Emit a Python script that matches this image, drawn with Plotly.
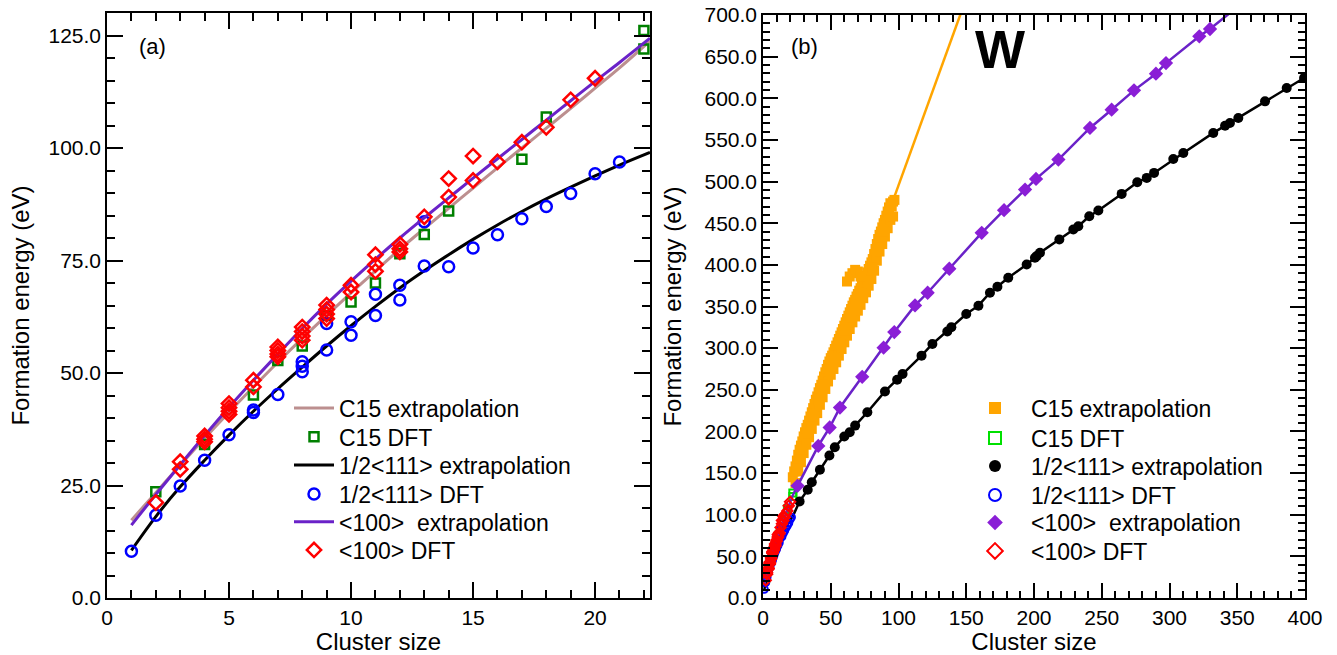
import plotly.graph_objects as go

# ---------------- Panel (a) data ----------------
fit_n = [1, 2, 3, 4, 5, 6, 7, 8, 9, 10, 11, 12, 13, 14, 15, 16, 17, 18, 19, 20, 21, 22.25]
c15_fit = [17.3, 23.4, 29.5, 35.5, 41.3, 46.9, 52.4, 57.7, 62.8, 67.8, 72.7, 77.5, 82.1, 86.6,
           91.1, 95.6, 100.0, 104.4, 108.8, 113.3, 117.8, 123.8]
h111_fit = [10.6, 18.1, 24.7, 30.6, 36.2, 41.5, 46.5, 51.3, 56.0, 60.5, 64.8, 68.9, 72.7, 76.3,
            79.7, 82.9, 85.9, 88.7, 91.3, 93.8, 96.2, 99.0]
d100_fit = [16.2, 23.0, 29.6, 36.1, 42.4, 48.4, 54.2, 59.9, 65.3, 70.4, 75.3, 80.0, 84.5, 88.9,
            93.3, 97.6, 101.9, 106.2, 110.5, 114.8, 119.0, 124.4]

c15_dft_n = [2, 4, 6, 7, 8, 9, 10, 11, 12, 13, 14, 17, 18, 22, 22]
c15_dft_e = [23.6, 34.1, 45.1, 52.8, 56.0, 62.8, 65.8, 70.0, 76.5, 80.8, 86.0, 97.5, 106.9, 126.1, 122.0]

h111_dft_n = [1, 2, 3, 4, 5, 6, 6, 7, 8, 8, 8, 9, 9, 10, 10, 11, 11, 12, 12, 13, 13,
              14, 15, 16, 17, 18, 19, 20, 21]
h111_dft_e = [10.4, 18.4, 24.9, 30.6, 36.3, 41.8, 41.2, 45.2, 52.5, 51.5, 50.3, 61.0, 55.1,
              61.4, 58.4, 67.5, 62.8, 69.5, 66.2, 83.6, 73.8, 73.6, 77.8, 80.7, 84.3, 87.0,
              89.9, 94.3, 96.9]

d100_dft_n = [2, 3, 3, 4, 4, 4, 5, 5, 5, 5, 6, 6, 7, 7, 7, 7, 8, 8, 8, 8, 9, 9, 9, 9,
              10, 10, 11, 11, 11, 12, 12, 12, 13, 14, 14, 15, 15, 16, 17, 18, 19, 20]
d100_dft_e = [21.2, 30.3, 28.6, 36.0, 35.3, 34.7, 43.2, 42.3, 41.5, 40.8, 48.4, 46.9,
              55.8, 55.0, 54.2, 53.6, 60.2, 59.2, 58.2, 57.3, 65.1, 64.1, 63.1, 62.1,
              69.5, 68.0, 76.3, 74.1, 72.6, 78.6, 77.6, 76.9, 84.7, 93.2, 89.1, 98.2,
              92.8, 96.9, 101.3, 104.6, 110.7, 115.5]

# ---------------- Panel (b) data ----------------
# C15 extrapolation cloud (main branch, lower scatter, middle scatter, bump near n~60-72)
c15_ext_n = [22, 23, 24, 25, 26, 27, 28, 29, 30, 31, 32, 33, 34, 35, 36, 37, 38, 39, 40, 41,
             42, 43, 44, 45, 46, 47, 48, 49, 50, 51, 52, 53, 54, 55, 56, 57, 58, 59, 60, 61,
             62, 63, 64, 65, 66, 67, 68, 69, 70, 71, 72, 73, 74, 75, 76, 77, 78, 79, 80, 81,
             82, 83, 84, 85, 86, 87, 88, 89, 90, 91, 92, 93, 94, 95, 96, 97,
             24, 26, 28, 30, 32, 34, 36, 38, 40, 42, 44, 46, 48, 50, 52, 54, 56, 58, 60, 62,
             64, 66, 68, 70, 72, 74, 76, 78, 80, 82, 84, 86, 88, 90, 92, 94, 96,
             25, 29, 33, 37, 41, 45, 49, 53, 57, 61, 65, 69, 73, 77, 81, 85, 89, 93,
             62, 64, 66, 68, 70, 72]
c15_ext_e = [145, 152, 158, 165, 172, 178, 183, 188, 194, 199, 204, 208, 213, 218, 223, 228,
             233, 238, 242, 247, 252, 256, 261, 266, 271, 275, 280, 284, 288, 291, 295, 299,
             303, 307, 311, 315, 319, 323, 327, 331, 335, 339, 343, 347, 351, 355, 358, 362,
             365, 369, 372, 376, 380, 383, 387, 391, 395, 399, 403, 407, 413, 419, 425, 431,
             436, 440, 445, 450, 454, 459, 464, 469, 474, 470, 476, 478,
             138, 152, 163, 174, 184, 193, 203, 213, 222, 232, 241, 251, 260, 268, 275, 283,
             291, 299, 307, 315, 323, 331, 338, 345, 352, 360, 367, 375, 383, 393, 405, 416,
             425, 434, 444, 454, 458,
             155, 178, 198, 218, 237, 256, 274, 289, 305, 321, 337, 352, 366, 381, 397, 421,
             440, 459,
             380, 386, 390, 394, 392, 386]
c15_line_n = [97, 150]
c15_line_e = [482, 720]

h111_ext_n = [27, 33, 36, 42, 49, 53, 60, 64, 68, 77, 90, 99, 103, 117, 125, 136, 139, 150,
              159, 167.5, 173, 181, 194.6, 200.7, 202, 204.4, 218.7, 229, 232.7, 240.8, 247.5,
              264.7, 276.2, 283.2, 288.6, 302.8, 310.2, 332.3, 341, 344.6, 350.8, 370.5,
              386.5, 399.3]
h111_ext_e = [116, 130, 139, 154, 171, 181, 194, 199, 207, 223, 248, 262, 269, 291, 305, 320,
              325, 341, 351, 366.5, 373.7, 384.5, 400.5, 408.5, 410.5, 414.5, 430.5, 442.4,
              446.4, 458.4, 465.2, 485.2, 499.2, 504.4, 510.4, 527.2, 534.4, 558.4, 567.1,
              570.4, 576.4, 596.3, 612.3, 624.3]

d100_ext_n = [25.5, 40.8, 49.2, 56.8, 73.2, 89, 96.9, 112.2, 121.5, 137.5, 161.4, 177.9, 193.4,
              201.5, 218, 241.3, 257.3, 273.8, 290, 297.4, 322, 329.9]
d100_ext_e = [134.7, 182.6, 204.7, 228.7, 265.6, 300.6, 319.3, 351.3, 366.5, 395.3, 438.5,
              465.6, 490.4, 503.2, 526.4, 564.4, 586.3, 609.5, 629.5, 642.3, 674.4, 683.2]
d100_tail_n = [345]
d100_tail_e = [703]

legend_labels = ["C15 extrapolation", "C15 DFT", "1/2&lt;111&gt; extrapolation",
                 "1/2&lt;111&gt; DFT", "&lt;100&gt;&#160; extrapolation", "&lt;100&gt; DFT"]

FONT = "Liberation Sans, Arial, Helvetica, sans-serif"
BROWN = "#BC8F8F"
PURPLE_A = "#6A22C8"
PURPLE_B = "#8A1ED6"

fig = go.Figure()

# ----- panel (a) -----
fig.add_trace(go.Scatter(x=fit_n, y=c15_fit, mode="lines", line=dict(color=BROWN, width=3, shape="spline"),
                         name=legend_labels[0], legend="legend", xaxis="x", yaxis="y"))
fig.add_trace(go.Scatter(x=c15_dft_n, y=c15_dft_e, mode="markers",
                         marker=dict(symbol="square-open", size=9, color="#008000", line=dict(width=2.5, color="#008000")),
                         name=legend_labels[1], legend="legend2", xaxis="x", yaxis="y"))
fig.add_trace(go.Scatter(x=fit_n, y=h111_fit, mode="lines", line=dict(color="black", width=3, shape="spline"),
                         name=legend_labels[2], legend="legend3", xaxis="x", yaxis="y"))
fig.add_trace(go.Scatter(x=h111_dft_n, y=h111_dft_e, mode="markers",
                         marker=dict(symbol="circle-open", size=11, color="#0000FF", line=dict(width=2.5, color="#0000FF")),
                         name=legend_labels[3], legend="legend4", xaxis="x", yaxis="y"))
fig.add_trace(go.Scatter(x=fit_n, y=d100_fit, mode="lines", line=dict(color=PURPLE_A, width=3, shape="spline"),
                         name=legend_labels[4], legend="legend5", xaxis="x", yaxis="y"))
fig.add_trace(go.Scatter(x=d100_dft_n, y=d100_dft_e, mode="markers",
                         marker=dict(symbol="diamond-open", size=11, color="#FF0000", line=dict(width=2.5, color="#FF0000")),
                         name=legend_labels[5], legend="legend6", xaxis="x", yaxis="y"))

# ----- panel (b) -----
fig.add_trace(go.Scatter(x=c15_line_n, y=c15_line_e, mode="lines", line=dict(color="#FFA500", width=2.5),
                         showlegend=False, xaxis="x2", yaxis="y2"))
fig.add_trace(go.Scatter(x=c15_ext_n, y=c15_ext_e, mode="markers",
                         marker=dict(symbol="square", size=10, color="#FFA500"),
                         name=legend_labels[0], legend="legend7", xaxis="x2", yaxis="y2"))
fig.add_trace(go.Scatter(x=c15_dft_n, y=c15_dft_e, mode="markers",
                         marker=dict(symbol="square-open", size=7, color="#00E000", line=dict(width=2, color="#00E000")),
                         name=legend_labels[1], legend="legend8", xaxis="x2", yaxis="y2"))
fig.add_trace(go.Scatter(x=fit_n + h111_ext_n, y=h111_fit + h111_ext_e, mode="lines",
                         line=dict(color="black", width=2.5), showlegend=False, xaxis="x2", yaxis="y2"))
fig.add_trace(go.Scatter(x=h111_ext_n, y=h111_ext_e, mode="markers",
                         marker=dict(symbol="circle", size=10, color="black"),
                         name=legend_labels[2], legend="legend9", xaxis="x2", yaxis="y2"))
fig.add_trace(go.Scatter(x=h111_dft_n, y=h111_dft_e, mode="markers",
                         marker=dict(symbol="circle-open", size=7, color="#0000FF", line=dict(width=2, color="#0000FF")),
                         name=legend_labels[3], legend="legend10", xaxis="x2", yaxis="y2"))
fig.add_trace(go.Scatter(x=fit_n + d100_ext_n + d100_tail_n, y=d100_fit + d100_ext_e + d100_tail_e, mode="lines",
                         line=dict(color=PURPLE_A, width=2.5), showlegend=False, xaxis="x2", yaxis="y2"))
fig.add_trace(go.Scatter(x=d100_ext_n, y=d100_ext_e, mode="markers",
                         marker=dict(symbol="diamond", size=11, color=PURPLE_B),
                         name=legend_labels[4], legend="legend11", xaxis="x2", yaxis="y2"))
fig.add_trace(go.Scatter(x=d100_dft_n, y=d100_dft_e, mode="markers",
                         marker=dict(symbol="diamond-open", size=8, color="#FF0000", line=dict(width=2, color="#FF0000")),
                         name=legend_labels[5], legend="legend12", xaxis="x2", yaxis="y2"))

axis_common = dict(showline=True, linecolor="black", linewidth=1.5, mirror="allticks", ticks="inside",
                   tickcolor="black", tickwidth=1.5, showgrid=False, zeroline=False, tickangle=0,
                   automargin=False,
                   tickfont=dict(family=FONT, size=21, color="black"),
                   title_font=dict(family=FONT, size=24, color="black"))

# plot area: x 107..1305 (1198 px), y 13..598 (585 px)
PW, PH = 1198.0, 585.0

layout = dict(
    width=1337, height=655,
    margin=dict(l=107, r=32, t=13, b=57, autoexpand=False),
    paper_bgcolor="white", plot_bgcolor="white",
    font=dict(family=FONT, size=18, color="black"),
    xaxis=dict(domain=[0, 543 / PW], range=[0, 22.25], dtick=5, tick0=0, ticklen=16,
               minor=dict(dtick=1, ticks="inside", ticklen=8, tickcolor="black", tickwidth=1.5),
               title=dict(text="Cluster size", standoff=6), anchor="y", **axis_common),
    yaxis=dict(domain=[0, 1], range=[0, 130], dtick=25, tick0=0, tickformat=".1f", ticklen=16,
               minor=dict(dtick=5, ticks="inside", ticklen=8, tickcolor="black", tickwidth=1.5),
               title=dict(text="Formation energy (eV)", standoff=12), anchor="x", **axis_common),
    xaxis2=dict(domain=[656 / PW, 1.0], range=[0, 400], dtick=50, tick0=0, ticklen=15,
                minor=dict(dtick=10, ticks="inside", ticklen=7, tickcolor="black", tickwidth=1.5),
                title=dict(text="Cluster size", standoff=6), anchor="y2", **axis_common),
    yaxis2=dict(domain=[0, 583 / PH], range=[0, 700], dtick=50, tick0=0, tickformat=".1f", ticklen=15,
                minor=dict(dtick=10, ticks="inside", ticklen=7, tickcolor="black", tickwidth=1.5),
                title=dict(text="Formation energy (eV)", standoff=16), anchor="x2", **axis_common),
    annotations=[
        dict(text="(a)", xref="x domain", yref="y domain", x=0.0838, y=0.942, showarrow=False,
             xanchor="center", yanchor="middle", font=dict(family=FONT, size=22, color="black")),
        dict(text="(b)", xref="x2 domain", yref="y2 domain", x=0.0757, y=0.9457, showarrow=False,
             xanchor="center", yanchor="middle", font=dict(family=FONT, size=22, color="black")),
        dict(text="<b>W</b>", xref="x2 domain", yref="y2 domain", x=0.438, y=0.94, showarrow=False,
             xanchor="center", yanchor="middle", font=dict(family=FONT, size=53, color="black")),
    ],
)

# one legend per entry so that row spacing matches the original
rows_a = [408, 436.7, 465, 494, 521.7, 550]
rows_b = [408, 438, 466, 495, 522.5, 551]
for i, yy in enumerate(rows_a):
    key = "legend" if i == 0 else "legend%d" % (i + 1)
    layout[key] = dict(x=(289 - 107) / PW, y=(598 - yy) / PH, xanchor="left", yanchor="middle",
                       bgcolor="rgba(0,0,0,0)", itemwidth=40,
                       font=dict(family=FONT, size=23, color="black"))
for i, yy in enumerate(rows_b):
    key = "legend%d" % (i + 7)
    layout[key] = dict(x=(959 - 107) / PW, y=(598 - yy) / PH, xanchor="left", yanchor="middle",
                       bgcolor="rgba(0,0,0,0)", itemwidth=62, itemsizing="constant",
                       font=dict(family=FONT, size=23, color="black"))

fig.update_layout(**layout)
fig.write_html("out.html")
